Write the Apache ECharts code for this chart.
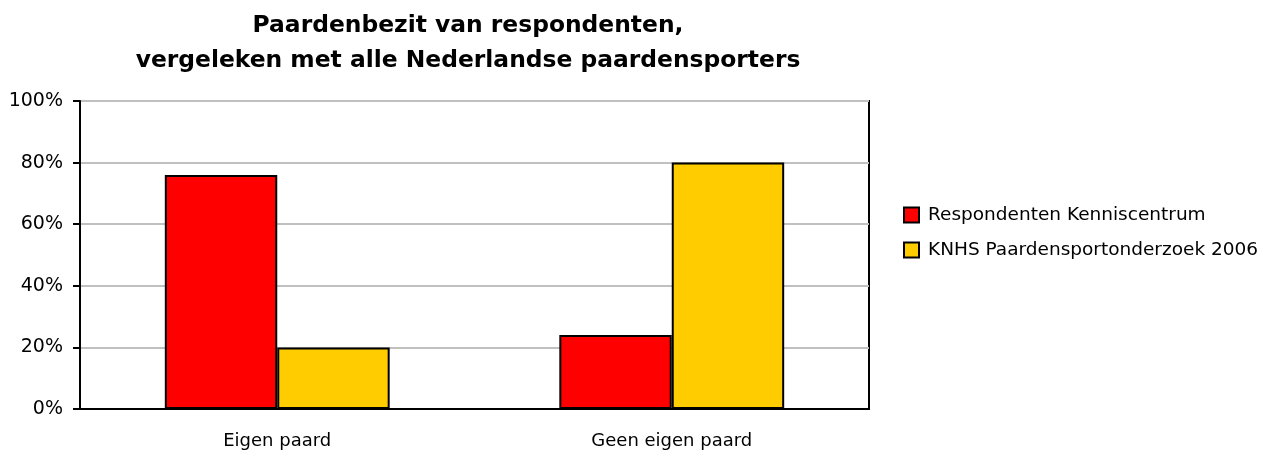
<!DOCTYPE html>
<html>
<head>
<meta charset="utf-8">
<script src="https://cdn.jsdelivr.net/npm/echarts@6/dist/echarts.min.js"></script>
<style>
  html, body { margin: 0; padding: 0; background: #fff; }
  #chart { width: 1270px; height: 456px; }
</style>
</head>
<body>
<div id="chart"></div>
<script>
// categories and series values (percent)
var categories = ['Eigen paard', 'Geen eigen paard']
var respondenten = [76, 24]
var knhs = [20, 80]
var yTicks = [0, 20, 40, 60, 80, 100]

var chart = echarts.init(document.getElementById('chart'))
var font = 'DejaVu Sans'

chart.setOption({
  animation: false,
  title: {
    text: 'Paardenbezit van respondenten,\nvergeleken met alle Nederlandse paardensporters',
    left: 463,
    textAlign: 'center',
    top: 3,
    textStyle: {
      fontFamily: font,
      fontWeight: 'bold',
      fontSize: 23.4,
      lineHeight: 35,
      color: '#000'
    }
  },
  legend: {
    orient: 'vertical',
    left: 898,
    top: 200,
    itemWidth: 15,
    itemHeight: 15,
    itemGap: 15,
    icon: 'rect',
    textStyle: { fontFamily: font, fontSize: 18.5, lineHeight: 20, color: '#000', padding: [0, 0, 0, 4] },
    data: ['Respondenten Kenniscentrum', 'KNHS Paardensportonderzoek 2006']
  },
  grid: {
    left: 80,
    right: 401,
    top: 101,
    bottom: 47,
    show: true,
    borderColor: '#000',
    borderWidth: 2
  },
  xAxis: {
    type: 'category',
    data: categories,
    axisLine: { lineStyle: { color: '#000', width: 2 } },
    axisTick: { length: 7, lineStyle: { color: '#000', width: 2 } },
    axisLabel: { fontFamily: font, fontSize: 18, color: '#000', margin: 23 }
  },
  yAxis: {
    type: 'value',
    min: yTicks[0],
    max: yTicks[yTicks.length - 1],
    interval: 20,
    axisLine: { show: true, lineStyle: { color: '#000', width: 2 } },
    axisTick: { show: true, length: 7, lineStyle: { color: '#000', width: 2 } },
    axisLabel: { fontFamily: font, fontSize: 19, color: '#000', margin: 17, formatter: '{value}%' },
    splitLine: { lineStyle: { color: '#c0c0c0', width: 2 } }
  },
  series: [
    {
      name: 'Respondenten Kenniscentrum',
      type: 'bar',
      data: respondenten,
      barGap: '0%',
      barCategoryGap: '43%',
      itemStyle: { color: '#ff0000', borderColor: '#000', borderWidth: 2 }
    },
    {
      name: 'KNHS Paardensportonderzoek 2006',
      type: 'bar',
      data: knhs,
      itemStyle: { color: '#ffcc00', borderColor: '#000', borderWidth: 2 }
    }
  ]
})
</script>
</body>
</html>
